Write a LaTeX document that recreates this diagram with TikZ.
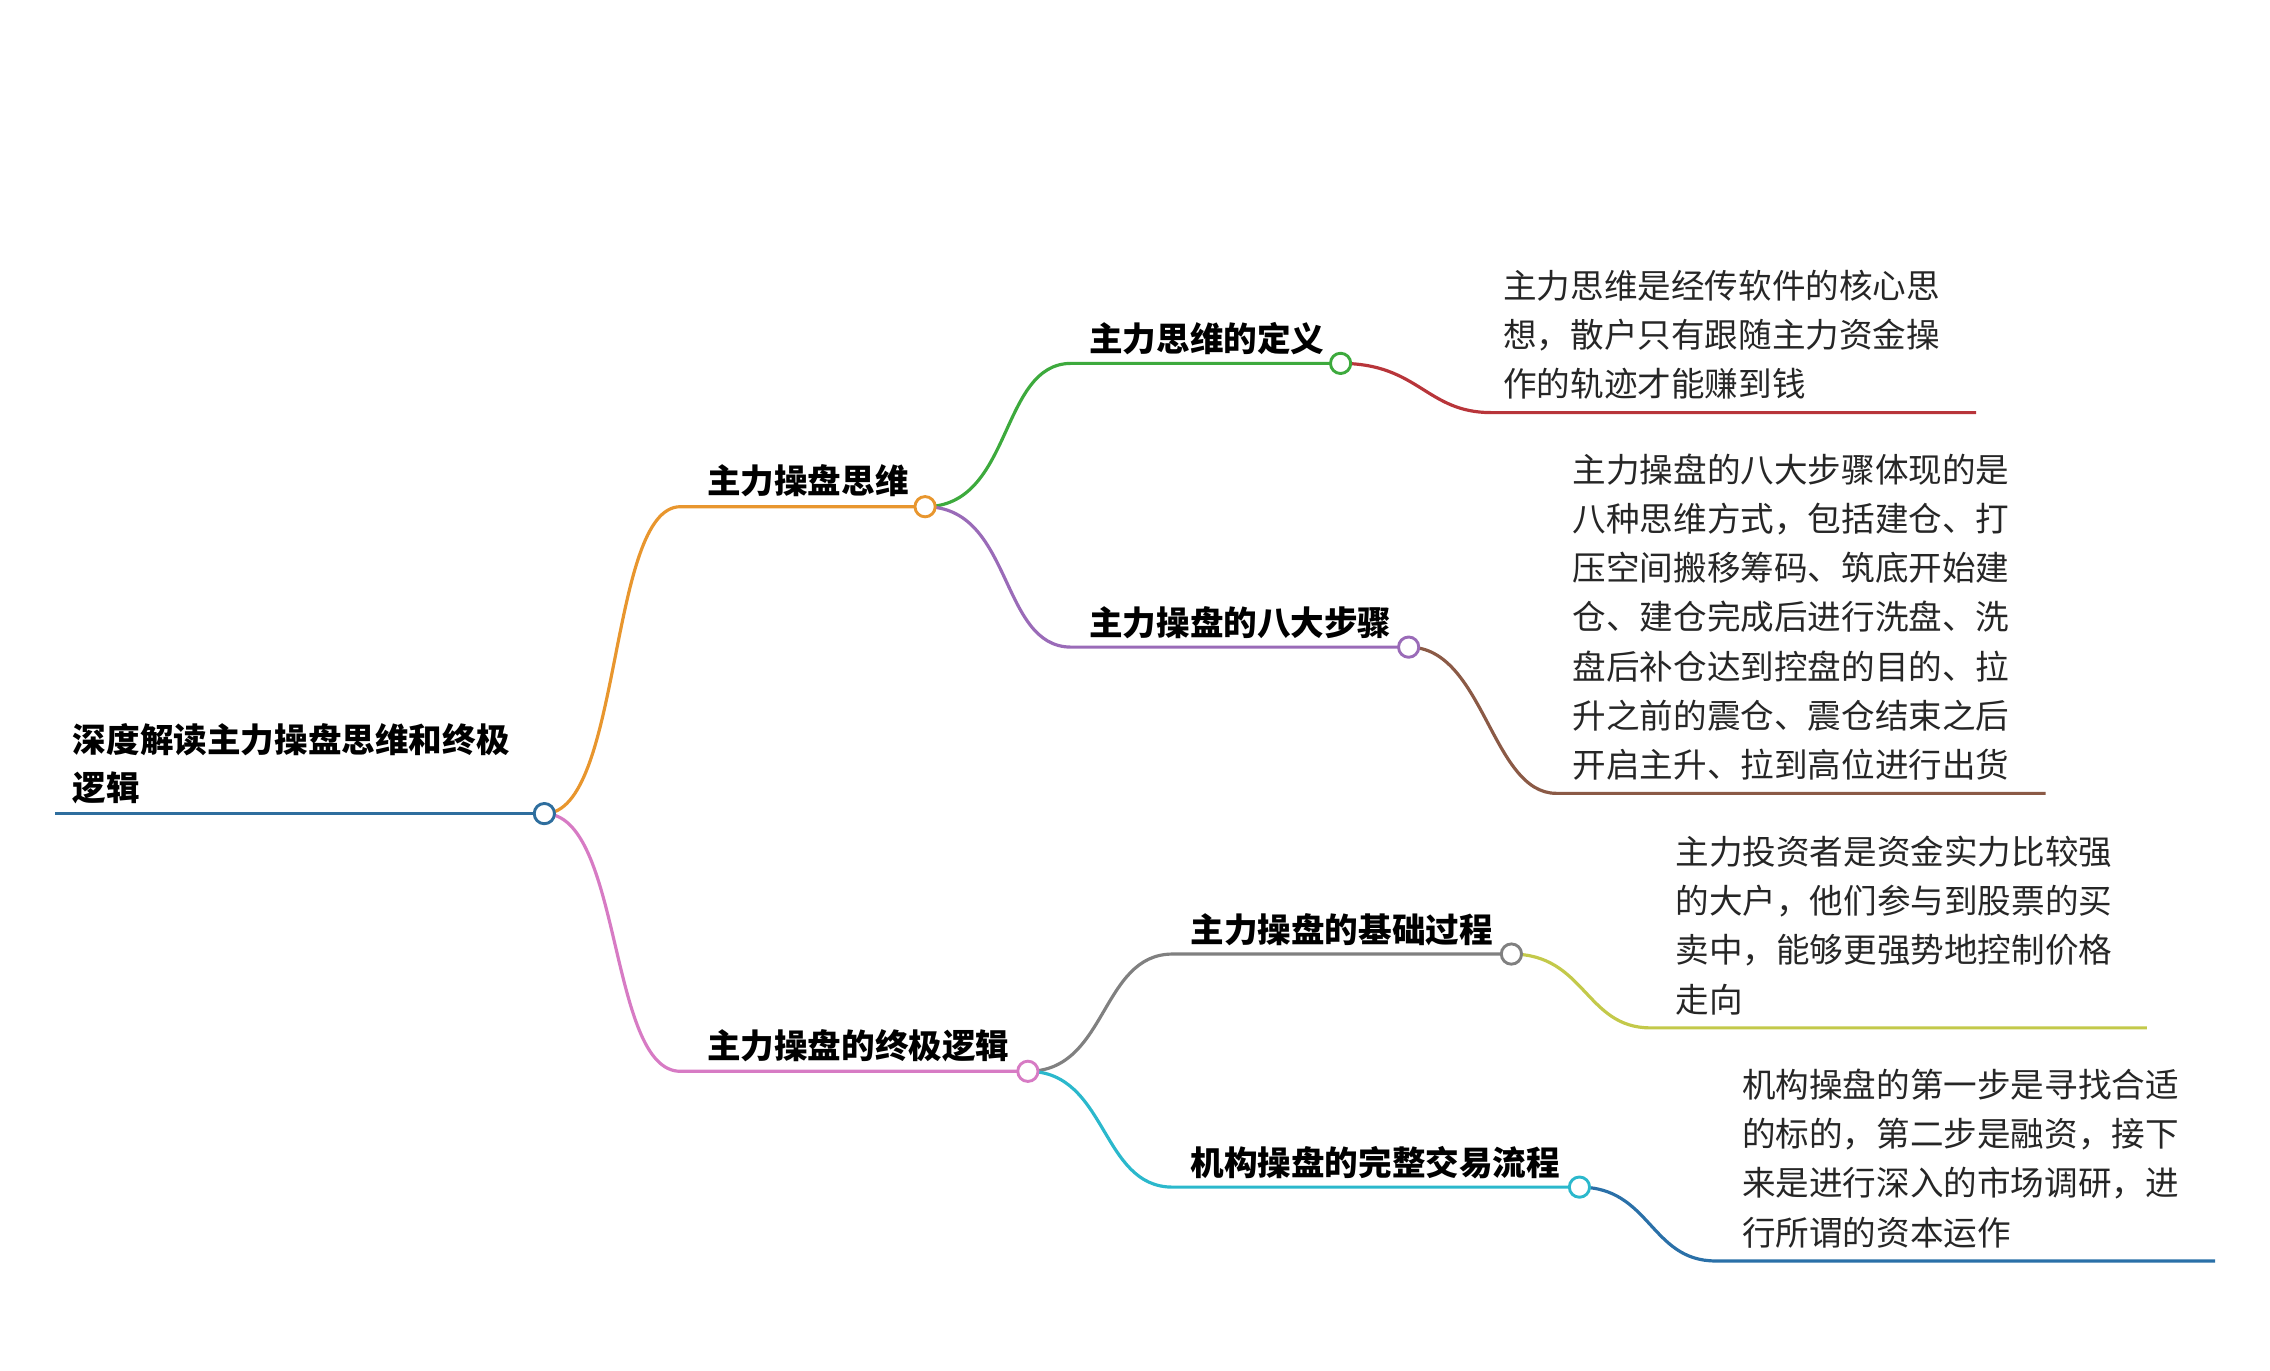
\documentclass[tikz,border=0pt]{standalone}
\usepackage{fontspec}
\setmainfont{Noto Sans CJK SC}
\begin{document}
\begin{tikzpicture}[x=0.5pt,y=-0.5pt,
  ln/.style={line width=1.1pt},
  dot/.style={circle,draw,fill=white,line width=1pt,inner sep=0pt,minimum size=7pt},
  hd/.style={anchor=base west,inner sep=0pt,font=\fontsize{11.6pt}{17pt}\selectfont\bfseries},
  tx/.style={anchor=north west,inner sep=0pt,align=left,font=\fontsize{11.6pt}{17pt}\selectfont,text=black!85}]
\useasboundingbox (0,0) rectangle (1568,947);
\definecolor{cblue}{HTML}{2E6E9E}\definecolor{corange}{HTML}{E8962E}
\definecolor{cpink}{HTML}{D77BC4}\definecolor{cgreen}{HTML}{3DAA3D}
\definecolor{cpurple}{HTML}{9A6BB8}\definecolor{cred}{HTML}{B8353A}
\definecolor{cbrown}{HTML}{8B5A46}\definecolor{cgray}{HTML}{808080}
\definecolor{ccyan}{HTML}{2BB8CC}\definecolor{cyel}{HTML}{C3C94A}
\definecolor{cdblue}{HTML}{2A70A8}
\coordinate (r) at (376,562); \coordinate (r0) at (38,562);
\coordinate (a) at (639,350); \coordinate (a0) at (470,350);
\coordinate (b) at (710,740); \coordinate (b0) at (470,740);
\coordinate (a1) at (926,251); \coordinate (a10) at (740,251);
\coordinate (a2) at (973,447); \coordinate (a20) at (740,447);
\coordinate (b1) at (1044,659); \coordinate (b10) at (810,659);
\coordinate (b2) at (1091,820); \coordinate (b20) at (810,820);
\coordinate (c1) at (1030,285); \coordinate (c1e) at (1365,285);
\coordinate (c2) at (1075,548); \coordinate (c2e) at (1413,548);
\coordinate (c3) at (1140,710); \coordinate (c3e) at (1483,710);
\coordinate (c4) at (1185,871); \coordinate (c4e) at (1530,871);
\newcommand\curv[4]{\draw[ln,#1] (#2) .. controls ($(#2)!0.5!(#3)$ |- #2) and ($(#2)!0.5!(#3)$ |- #3) .. (#3) -- (#4);}
\draw[ln,cblue] (r0) -- (r);
\begin{scope}
\usetikzlibrary{calc}
\end{scope}
\draw[ln,corange] (r) .. controls (430,562) and (420,350) .. (a0) -- (a);
\draw[ln,cpink] (r) .. controls (430,562) and (420,740) .. (b0) -- (b);
\draw[ln,cgreen] (a) .. controls (700,350) and (690,251) .. (a10) -- (a1);
\draw[ln,cpurple] (a) .. controls (700,350) and (690,447) .. (a20) -- (a2);
\draw[ln,cred] (a1) .. controls (980,251) and (985,285) .. (c1) -- (c1e);
\draw[ln,cbrown] (a2) .. controls (1025,447) and (1030,548) .. (c2) -- (c2e);
\draw[ln,cgray] (b) .. controls (765,740) and (760,659) .. (b10) -- (b1);
\draw[ln,ccyan] (b) .. controls (765,740) and (760,820) .. (b20) -- (b2);
\draw[ln,cyel] (b1) .. controls (1095,659) and (1095,710) .. (c3) -- (c3e);
\draw[ln,cdblue] (b2) .. controls (1140,820) and (1140,871) .. (c4) -- (c4e);
\node[dot,draw=cblue] (nr) at (r) {};
\node[dot,draw=corange] (na) at (a) {};
\node[dot,draw=cpink] (nb) at (b) {};
\node[dot,draw=cgreen] (na1) at (a1) {};
\node[dot,draw=cpurple] (na2) at (a2) {};
\node[dot,draw=cgray] (nb1) at (b1) {};
\node[dot,draw=ccyan] (nb2) at (b2) {};
\node[hd] (t0) at (50,520) {深度解读主力操盘思维和终极};
\node[hd] (t0b) at (50,553) {逻辑};
\node[hd] (ta) at (488,341) {主力操盘思维};
\node[hd] (tb) at (488,731) {主力操盘的终极逻辑};
\node[hd] (ta1) at (752,243) {主力思维的定义};
\node[hd] (ta2) at (752,439) {主力操盘的八大步骤};
\node[hd] (tb1) at (822,651) {主力操盘的基础过程};
\node[hd] (tb2) at (822,812) {机构操盘的完整交易流程};
\node[tx] (x1) at (1038,186) {主力思维是经传软件的核心思\\想，散户只有跟随主力资金操\\作的轨迹才能赚到钱};
\node[tx] (x2) at (1086,313) {主力操盘的八大步骤体现的是\\八种思维方式，包括建仓、打\\压空间搬移筹码、筑底开始建\\仓、建仓完成后进行洗盘、洗\\盘后补仓达到控盘的目的、拉\\升之前的震仓、震仓结束之后\\开启主升、拉到高位进行出货};
\node[tx] (x3) at (1157,577) {主力投资者是资金实力比较强\\的大户，他们参与到股票的买\\卖中，能够更强势地控制价格\\走向};
\node[tx] (x4) at (1203,738) {机构操盘的第一步是寻找合适\\的标的，第二步是融资，接下\\来是进行深入的市场调研，进\\行所谓的资本运作};
\end{tikzpicture}
\end{document}
